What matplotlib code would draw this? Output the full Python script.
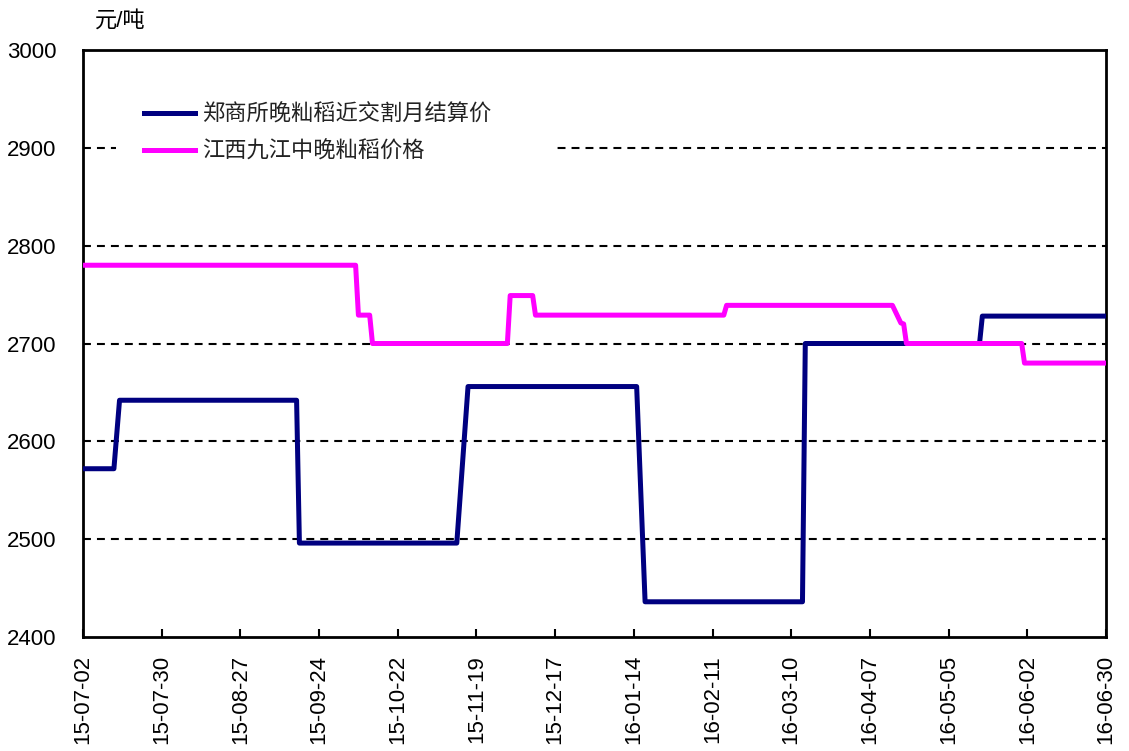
import numpy as np
import pandas as pd
import matplotlib
matplotlib.use("Agg")
import matplotlib.pyplot as plt
import matplotlib.dates as mdates
from matplotlib.patches import Rectangle

plt.rcParams['font.family'] = ['Liberation Sans', 'Noto Sans CJK SC', 'DejaVu Sans']

# breakpoints of the two step series (date, value); line joins them straight
zce_dates = ['2015-07-02', '2015-07-13', '2015-07-15', '2015-09-16', '2015-09-17',
             '2015-11-12', '2015-11-16', '2016-01-15', '2016-01-18', '2016-03-14',
             '2016-03-15', '2016-05-16', '2016-05-17', '2016-06-30']
zce_vals = [2572, 2572, 2642, 2642, 2496, 2496, 2656, 2656, 2436, 2436,
            2700, 2700, 2728, 2728]

jj_dates = ['2015-07-02', '2015-10-07', '2015-10-08', '2015-10-12', '2015-10-13',
            '2015-11-30', '2015-12-01', '2015-12-09', '2015-12-10', '2016-02-15',
            '2016-02-16', '2016-04-15', '2016-04-18', '2016-04-19', '2016-04-20',
            '2016-05-31', '2016-06-01', '2016-06-30']
jj_vals = [2780, 2780, 2729, 2729, 2700, 2700, 2749, 2749, 2729, 2729,
           2739, 2739, 2721, 2720, 2700, 2700, 2680, 2680]

labels = ['郑商所晚籼稻近交割月结算价', '江西九江中晚籼稻价格']
unit = '元/吨'

fig = plt.figure(figsize=(11.29, 7.51), dpi=100)
ax = fig.add_axes([83/1129, 1 - 637/751, 1023/1129, 587/751])

ax.plot(pd.to_datetime(zce_dates), zce_vals, color='#000080', lw=3.6,
        label=labels[0], zorder=4, solid_joinstyle='round')
ax.plot(pd.to_datetime(jj_dates), jj_vals, color='#FF00FF', lw=3.6,
        label=labels[1], zorder=4, solid_joinstyle='round')

start, end = pd.Timestamp('2015-07-02'), pd.Timestamp('2016-06-30')
ax.set_xlim(start, end)
ax.set_ylim(2400, 3000)
ax.set_yticks(np.arange(2400, 3001, 100))
ax.set_xticks(pd.date_range(start, end, freq='28D'))
ax.xaxis.set_major_formatter(mdates.DateFormatter('%y-%m-%d'))

for y in range(2500, 3000, 100):
    ax.axhline(y, color='black', lw=1.5, linestyle=(0, (3.8, 2.9)), zorder=1)

for s in ax.spines.values():
    s.set_linewidth(2)
ax.tick_params(axis='x', direction='in', length=6, width=1.5, pad=13,
               labelsize=16, labelrotation=90)
ax.tick_params(axis='y', length=0, pad=19, labelsize=16)
for t in ax.get_xticklabels():
    t.set_va('top')

# white block behind the legend hides part of the 2900 gridline
ax.add_patch(Rectangle((0.032, 0.796), 0.431, 0.136, transform=ax.transAxes,
                       facecolor='white', edgecolor='none', zorder=2))
leg = ax.legend(loc='upper left', bbox_to_anchor=(0.051, 0.923), frameon=False,
                fontsize=16, handlelength=2.3, handletextpad=0.3,
                labelspacing=0.72, borderaxespad=0)
leg.set_zorder(5)
for t in leg.get_texts():
    t.set_color('#222222')

fig.text(95/1129, 1 - 21/751, unit, fontsize=16, va='center', ha='left')

fig.savefig('out.png', dpi=100)
